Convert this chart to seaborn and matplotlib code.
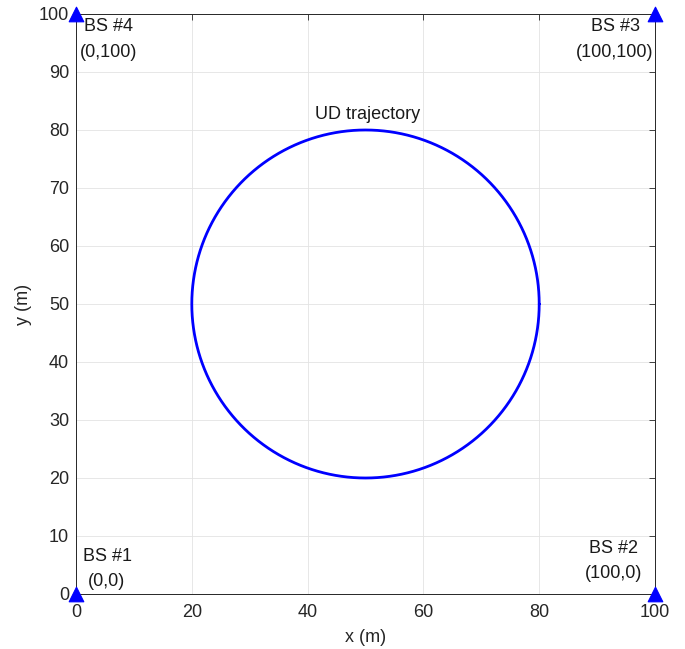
import numpy as np
import pandas as pd
import matplotlib
matplotlib.use("Agg")
import matplotlib.pyplot as plt
import seaborn as sns

# Data
bs_x = [0, 100, 100, 0]
bs_y = [0, 0, 100, 100]
bs_names = ["BS #1", "BS #2", "BS #3", "BS #4"]
bs_coords = ["(0,0)", "(100,0)", "(100,100)", "(0,100)"]
center_x = 50
center_y = 50
radius = 30
ticks = [0, 10, 20, 30, 40, 50, 60, 70, 80, 90, 100]
x_ticks = [0, 20, 40, 60, 80, 100]

sns.set_theme(style="whitegrid")
plt.rcParams['font.family'] = ['Liberation Sans', 'DejaVu Sans']

fig = plt.figure(figsize=(6.85, 6.49), dpi=100)
ax = fig.add_axes([76/685, 1 - 594/649, 579/685, 580/649])

theta = np.linspace(0, 2*np.pi, 361)
traj = pd.DataFrame({"x": center_x + radius*np.cos(theta),
                     "y": center_y + radius*np.sin(theta),
                     "t": np.arange(361)})
sns.lineplot(data=traj, x="x", y="y", sort=False, ax=ax, color="#0000FF", lw=2.0, estimator=None)

bs = pd.DataFrame({"x": bs_x, "y": bs_y})
sns.scatterplot(data=bs, x="x", y="y", ax=ax, marker="^", s=110, color="#0000FF",
                edgecolor="#0000FF", clip_on=False, zorder=5)

fs = 13
tc = "#1a1a1a"
# labels
ax.text(1.4, 97.8, bs_names[3], fontsize=fs, ha="left", va="center", color=tc)
ax.text(0.7, 93.3, bs_coords[3], fontsize=fs, ha="left", va="center", color=tc)
ax.text(97.4, 97.8, bs_names[2], fontsize=fs, ha="right", va="center", color=tc)
ax.text(99.65, 93.3, bs_coords[2], fontsize=fs, ha="right", va="center", color=tc)
ax.text(1.2, 6.5, bs_names[0], fontsize=fs, ha="left", va="center", color=tc)
ax.text(5.35, 2.2, bs_coords[0], fontsize=fs, ha="center", va="center", color=tc)
ax.text(97.1, 7.9, bs_names[1], fontsize=fs, ha="right", va="center", color=tc)
ax.text(97.8, 3.6, bs_coords[1], fontsize=fs, ha="right", va="center", color=tc)
ax.text(50.3, 82.6, "UD trajectory", fontsize=fs, ha="center", va="center", color=tc)

ax.set_xlim(0, 100)
ax.set_ylim(0, 100)
ax.set_xticks(x_ticks)
ax.set_yticks(ticks)
ax.set_xlabel("x (m)", fontsize=fs, color="#262626")
ax.set_ylabel("y (m)", fontsize=fs, color="#262626")
ax.xaxis.set_label_coords(0.5, -(637 - 594) / 580)
ax.yaxis.set_label_coords(-(76 - 24) / 579, 0.5)
ax.xaxis.label.set_va("center")
ax.yaxis.label.set_va("center")
ax.tick_params(axis="x", pad=7)
ax.tick_params(axis="y", pad=5)
ax.tick_params(axis="both", which="both", direction="in", length=4, width=0.6,
               colors="#262626", labelsize=fs, top=True, right=True)
ax.grid(True, color="#e3e3e3", lw=0.6)
for s in ax.spines.values():
    s.set_color("#262626")
    s.set_linewidth(0.7)
ax.set_facecolor("white")

fig.savefig("out.png", dpi=100)
